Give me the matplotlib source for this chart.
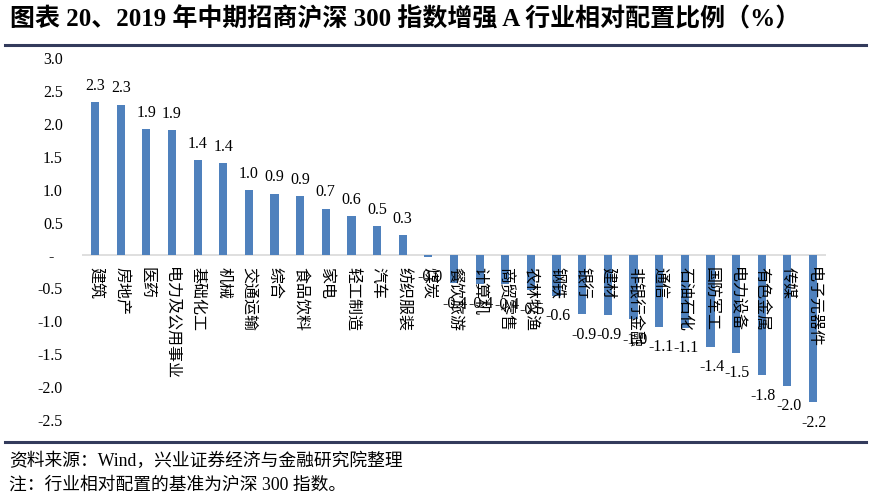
import matplotlib
matplotlib.use("Agg")
import matplotlib.pyplot as plt
from matplotlib.lines import Line2D

# fonts: serif latin first, CJK fallback
plt.rcParams['font.family'] = ['Liberation Serif', 'Noto Sans CJK SC', 'DejaVu Sans']
plt.rcParams['axes.unicode_minus'] = False

# 1. Data
industries = ['建筑', '房地产', '医药', '电力及公用事业', '基础化工', '机械', '交通运输',
              '综合', '食品饮料', '家电', '轻工制造', '汽车', '纺织服装', '煤炭',
              '餐饮旅游', '计算机', '商贸零售', '农林牧渔', '钢铁', '银行', '建材',
              '非银行金融', '通信', '石油石化', '国防军工', '电力设备', '有色金属',
              '传媒', '电子元器件']
weights = [2.33, 2.29, 1.92, 1.90, 1.45, 1.40, 0.99, 0.94, 0.90, 0.71, 0.60, 0.45,
           0.31, -0.02, -0.42, -0.43, -0.44, -0.52, -0.61, -0.89, -0.90, -0.97,
           -1.08, -1.10, -1.39, -1.48, -1.82, -1.98, -2.23]
y_ticks = [-2.5, -2.0, -1.5, -1.0, -0.5, 0.0, 0.5, 1.0, 1.5, 2.0, 2.5, 3.0]
y_tick_labels = ['-2.5', '-2.0', '-1.5', '-1.0', '-0.5', '-  ', '0.5', '1.0', '1.5',
                 '2.0', '2.5', '3.0']

title = '图表 20、2019 年中期招商沪深 300 指数增强 A 行业相对配置比例（%）'
source = '资料来源：Wind，兴业证券经济与金融研究院整理'
note = '注：行业相对配置的基准为沪深 300 指数。'

bar_color = '#4F81BD'
rule_color = '#333B5C'

# 2. Figure
fig = plt.figure(figsize=(8.71, 5.0), dpi=100)
ax = fig.add_axes([0.0944, 0.16, 0.8537, 0.724])

x = list(range(len(industries)))
ax.bar(x, weights, width=0.32, color=bar_color, zorder=2)
ax.axhline(0, color='#D9D9D9', linewidth=1.2, zorder=1)

ax.set_xlim(-0.5, len(industries) - 0.5)
ax.set_ylim(-2.5, 3.0)
ax.set_yticks(y_ticks)
ax.set_yticklabels(y_tick_labels, fontsize=11.5)
ax.tick_params(axis='y', length=0, pad=14)
ax.set_xticks([])
for s in ax.spines.values():
    s.set_visible(False)

# category labels hang from the zero line, vertical
for i, name in enumerate(industries):
    ax.annotate(name, xy=(i, 0), xytext=(0, -8), textcoords='offset points',
                rotation=-90, ha='center', va='top', fontsize=11.5, zorder=3)

# value labels
for i, v in enumerate(weights):
    txt = f'{v:.1f}'
    if v >= 0:
        ax.annotate(txt, xy=(i, v), xytext=(0, 6), textcoords='offset points',
                    ha='center', va='bottom', fontsize=11.5, zorder=4)
    else:
        ax.annotate(txt, xy=(i, v), xytext=(1, -9), textcoords='offset points',
                    ha='center', va='top', fontsize=11.5, zorder=4)

# 3. Title, rules and footer
fig.text(0.012, 0.962, title, fontsize=18, fontweight='bold', va='center', ha='left')
fig.add_artist(Line2D([0.006, 0.994], [0.91, 0.91], color=rule_color, linewidth=2.2,
                      transform=fig.transFigure))
fig.add_artist(Line2D([0.006, 0.994], [0.116, 0.116], color=rule_color, linewidth=2.2,
                      transform=fig.transFigure))
fig.text(0.01, 0.078, source, fontsize=12.8, va='center', ha='left')
fig.text(0.01, 0.03, note, fontsize=12.8, va='center', ha='left')

fig.savefig('out.png', dpi=100)
